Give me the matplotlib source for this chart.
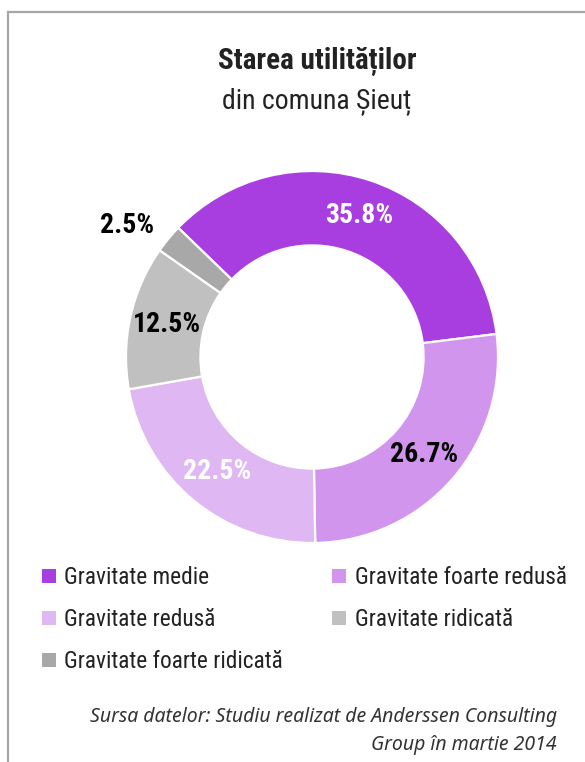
import matplotlib.pyplot as plt
from matplotlib.lines import Line2D
from matplotlib.patches import Patch
from matplotlib import font_manager
import numpy as np

# starea utilitatilor - Sieut
categories = ["Gravitate medie", "Gravitate foarte redusă", "Gravitate redusă",
              "Gravitate ridicată", "Gravitate foarte ridicată"]
values = [35.8, 26.7, 22.5, 12.5, 2.5]
colors = ["#a93ee0", "#d295ee", "#dfb8f3", "#c0c0c0", "#a8a8a8"]
label_colors = ["white", "black", "white", "black", "black"]

title = "Starea utilităților"
subtitle = "din comuna Șieuț"
source = "Sursa datelor: Studiu realizat de Anderssen Consulting\nGroup în martie 2014"

# pick a narrow family if one is installed
installed = {f.name for f in font_manager.fontManager.ttflist}
family = next((f for f in ["Roboto Condensed", "Liberation Sans Narrow",
                           "Noto Sans", "DejaVu Sans"] if f in installed), "DejaVu Sans")
plt.rcParams["font.family"] = [family, "DejaVu Sans"]

W, H = 585, 762
fig = plt.figure(figsize=(W / 100, H / 100), dpi=100)

# donut centre and radius in pixels
cx, cy, R = 312, 357, 186
half = 1.35 * R
ax = fig.add_axes([(cx - half) / W, (H - cy - half) / H, 2 * half / W, 2 * half / H])

wedges, _ = ax.pie(values, colors=colors, startangle=136, counterclock=False,
                   radius=1.0, wedgeprops=dict(width=0.4, edgecolor="white", linewidth=1.6))
ax.set_xlim(-1.35, 1.35)
ax.set_ylim(-1.35, 1.35)
ax.set_aspect("equal")
ax.axis("off")

for w, v, tc in zip(wedges, values, label_colors):
    mid = np.deg2rad((w.theta1 + w.theta2) / 2)
    r = 0.8 if v > 5 else 1.22
    if v <= 5:
        mid += np.deg2rad(4)
    ax.text(r * np.cos(mid), r * np.sin(mid), f"{v}%", ha="center", va="center",
            fontsize=20, fontweight="bold", color=tc)

fig.text(317 / W, 1 - 61 / H, title, ha="center", va="center", fontsize=21,
         fontweight="bold", color="#222222")
fig.text(317 / W, 1 - 101 / H, subtitle, ha="center", va="center", fontsize=20,
         color="#222222")

# legend filled row by row
order = [0, 2, 4, 1, 3]
handles = [Patch(facecolor=colors[i], edgecolor="none") for i in order]
labels = [categories[i] for i in order]
fig.legend(handles, labels, ncol=2, loc="upper left",
           bbox_to_anchor=(42 / W, 1 - 566 / H), frameon=False, fontsize=16.8,
           borderpad=0, borderaxespad=0,
           handlelength=0.58, handleheight=0.58, handletextpad=0.38,
           columnspacing=2.1, labelspacing=0.82, labelcolor="#222222")

fig.text(557 / W, 1 - 731 / H, source, ha="right", va="center", fontsize=14,
         style="italic", color="#333333", linespacing=1.55,
         family=["Noto Sans", "DejaVu Sans"])

# frame
fig.add_artist(Line2D([8 / W, 1], [1 - 12 / H, 1 - 12 / H], color="#a6a6a6", lw=1.6))
fig.add_artist(Line2D([8 / W, 8 / W], [1 - 12 / H, 0], color="#a6a6a6", lw=1.6))

fig.savefig("out.png", dpi=100, facecolor="white")
